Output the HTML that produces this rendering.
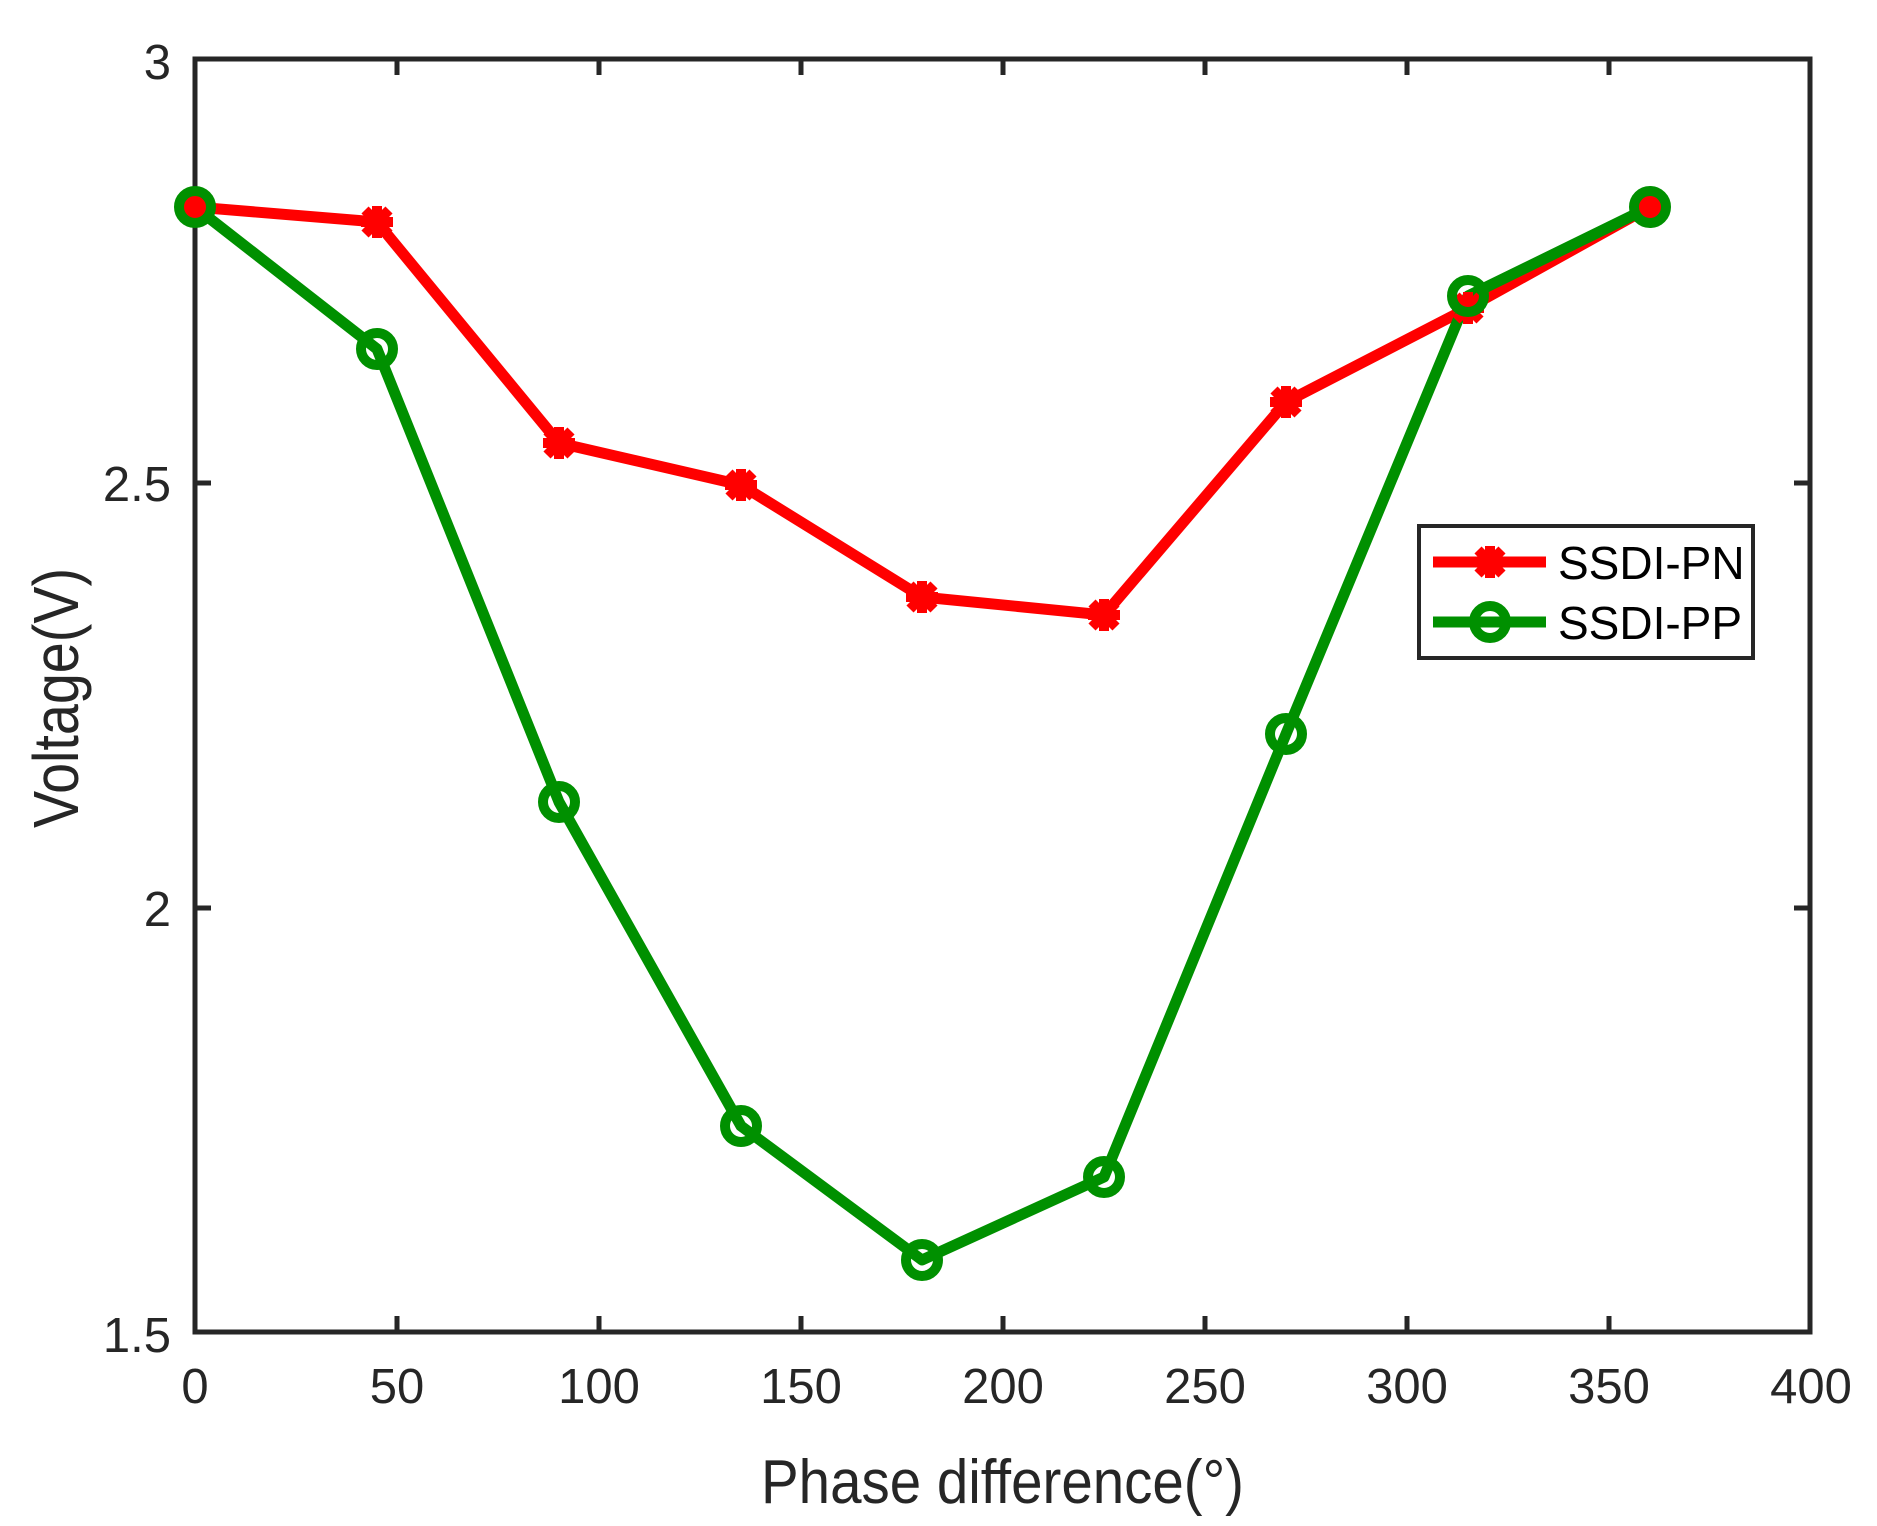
<!DOCTYPE html>
<html><head><meta charset="utf-8"><style>html,body{margin:0;padding:0;background:#fff}svg{display:block}</style></head>
<body>
<svg width="1877" height="1526" viewBox="0 0 1877 1526" xmlns="http://www.w3.org/2000/svg" font-family="Liberation Sans, Arial, sans-serif">
<defs>
<g id="ast"><path d="M-16 0H16M0 -16V16M-12 -12L12 12M-12 12L12 -12" stroke="#ff0000" stroke-width="10"/><rect x="-10" y="-10" width="20" height="20" fill="#ff0000"/></g>
<g id="circ"><circle r="16" fill="none" stroke="#009000" stroke-width="10"/></g>
</defs>
<rect width="1877" height="1526" fill="#fff"/>
<g stroke="#262626" stroke-width="5" fill="none">
<rect x="195" y="59" width="1615" height="1273"/>
<path d="M397 1332v-16M599 1332v-16M801 1332v-16M1003 1332v-16M1205 1332v-16M1407 1332v-16M1609 1332v-16
M397 59v16M599 59v16M801 59v16M1003 59v16M1205 59v16M1407 59v16M1609 59v16
M195 908h16M195 483h16M1810 908h-16M1810 483h-16"/>
</g>
<g fill="#262626" font-size="49" text-anchor="middle">
<text x="195" y="1403">0</text><text x="397" y="1403">50</text><text x="599" y="1403">100</text><text x="801" y="1403">150</text><text x="1003" y="1403">200</text><text x="1205" y="1403">250</text><text x="1407" y="1403">300</text><text x="1609" y="1403">350</text><text x="1811" y="1403">400</text>
</g>
<g fill="#262626" font-size="49" text-anchor="end">
<text x="171" y="1352">1.5</text><text x="171" y="926">2</text><text x="171" y="501">2.5</text><text x="171" y="79">3</text>
</g>
<text x="761" y="1503" font-size="62" fill="#262626" textLength="483" lengthAdjust="spacingAndGlyphs">Phase difference(°)</text>
<text transform="translate(78,698) rotate(-90)" text-anchor="middle" font-size="64" fill="#262626" textLength="260" lengthAdjust="spacingAndGlyphs">Voltage(V)</text>

<polyline fill="none" stroke="#ff0000" stroke-width="11" stroke-linejoin="round" points="195,207 377,222 559,443 741,485 922,597 1104,615 1286,402 1468,308 1650,207"/>
<polyline fill="none" stroke="#009000" stroke-width="11" stroke-linejoin="round" points="195,207 377,349 559,802 741,1126 922,1260 1104,1177 1286,734 1468,296 1650,207"/>
<g>
<use href="#ast" x="195" y="207"/><use href="#ast" x="377" y="222"/><use href="#ast" x="559" y="443"/><use href="#ast" x="741" y="485"/><use href="#ast" x="922" y="597"/><use href="#ast" x="1104" y="615"/><use href="#ast" x="1286" y="402"/><use href="#ast" x="1468" y="308"/><use href="#ast" x="1650" y="207"/>
</g>
<g>
<use href="#circ" x="195" y="207"/><use href="#circ" x="377" y="349"/><use href="#circ" x="559" y="802"/><use href="#circ" x="741" y="1126"/><use href="#circ" x="922" y="1260"/><use href="#circ" x="1104" y="1177"/><use href="#circ" x="1286" y="734"/><use href="#circ" x="1468" y="296"/><use href="#circ" x="1650" y="207"/>
</g>

<rect x="1419" y="526" width="334" height="132" fill="#fff" stroke="#262626" stroke-width="4"/>
<line x1="1433" y1="562" x2="1546" y2="562" stroke="#ff0000" stroke-width="11"/>
<use href="#ast" x="1490" y="562"/>
<line x1="1433" y1="622" x2="1546" y2="622" stroke="#009000" stroke-width="11"/>
<use href="#circ" x="1490" y="622"/>
<text x="1558" y="579" font-size="46" fill="#000">SSDI-PN</text>
<text x="1558" y="639" font-size="46" fill="#000">SSDI-PP</text>
</svg>
</body></html>
